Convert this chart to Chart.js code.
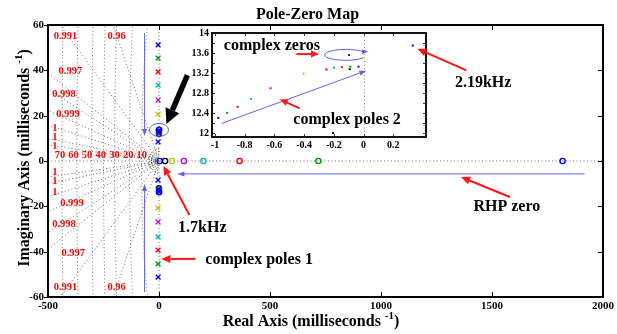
<!DOCTYPE html>
<html>
<head>
<meta charset="utf-8">
<title>Pole-Zero Map</title>
<script src="https://cdn.jsdelivr.net/npm/chart.js@4.4.1/dist/chart.umd.min.js"></script>
<style>
  html, body { margin: 0; padding: 0; background: #fff; }
  #wrap { position: relative; width: 617px; height: 334px; overflow: hidden; }
  #wrap canvas { position: absolute; left: 0; top: 0; }
</style>
</head>
<body>
<div id="wrap">
  <canvas id="main" width="617" height="334" style="width:617px;height:334px"></canvas>
  <canvas id="zoom" width="617" height="334" style="width:617px;height:334px"></canvas>
</div>
<script>
// ---------------- data (ms^-1) ----------------
const systemNames = ['blue', 'green', 'red', 'cyan', 'magenta', 'yellow', 'black'];

// lightly damped pole pairs close to the imaginary axis ("complex poles 1")
const poles1System = ['blue', 'green', 'red', 'cyan', 'magenta', 'yellow', 'blue'];
const poles1Re = [-4, -4, -4, -4, -4, -4, -4];
const poles1Im = [51.2, 45.4, 39.3, 33.5, 26.9, 20.7, 8.4];

// pole pairs around 12-13.4 ms^-1 ("complex poles 2")
const poles2System = ['blue', 'green', 'red', 'cyan', 'magenta', 'yellow',
                      'magenta', 'yellow', 'cyan', 'red', 'green', 'black', 'blue'];
const poles2Re = [-0.978, -0.918, -0.848, -0.758, -0.626, -0.403,
                  -0.25, -0.25, -0.20, -0.146, -0.089, -0.094, -0.034];
const poles2Im = [12.31, 12.41, 12.53, 12.69, 12.90, 13.19,
                  13.27, 13.29, 13.31, 13.32, 13.33, 13.28, 13.33];

// complex zero pairs
const cZeroSystem = ['blue', 'blue', 'black'];
const cZeroRe = [-0.098, 0.331, -0.206];
const cZeroIm = [13.56, 13.75, 12.01];

// real zeros
const rZeroSystem = ['blue', 'black', 'yellow', 'magenta', 'cyan', 'red', 'green', 'blue'];
const rZeroRe = [3, 27, 57, 112, 200, 363, 718, 1818];

// axis ticks
const mainXTicks = [-500, 0, 500, 1000, 1500, 2000];
const mainYTicks = [-60, -40, -20, 0, 20, 40, 60];
const insetXTicks = [-1, -0.8, -0.6, -0.4, -0.2, 0, 0.2];
const insetYTicks = [12, 12.4, 12.8, 13.2, 13.6, 14];

// s-plane grid: damping ratios and natural-frequency circles
const zetaValues = [0.991, 0.96, 0.997, 0.998, 0.999, 0.9995, 0.9998, 0.9999];
const zetaLabels = ['0.991', '0.96', '0.997', '0.998', '0.999', '1', '1', '1'];
const zetaLabelUpX = [-421, -191, -399, -428, -410, -469, -469, -469];
const zetaLabelUpY = [55.1, 55.1, 39.7, 29.6, 20.7, 14.6, 10.6, 6.6];
const zetaLabelLoX = [-421, -191, -386, -428, -392, -469, -469, -469];
const zetaLabelLoY = [-55.6, -55.6, -40.6, -27.8, -18.5, -4.9, -8.8, -13.7];
const wnRadii = [437, 370, 303, 250, 200, 133, 79];
const wnLabels = ['70', '60', '50', '40', '30', '20', '10'];
const wnLabelX = [-446, -385, -324, -262, -201, -139, -78];
const wnLabelY = 2.6;
const arcRx = [14, 24, 34, 44];
const arcRy = [1.8, 3.0, 4.2, 5.4];

// annotations (main axes coordinates)
const blueArrowsMain = [[-65, 56.5, -65, 11], [-65, -57.8, -65, -10.1], [1917, -5.7, 83, -5.7]];
const redArrowsMain = [[137, -23.8, 20, -2.2], [164, -43.2, 11, -43.2],
                       [1581, -15.9, 1361, -7.1], [1385, 40, 1164, 49.5]];
const blackArrowMain = [128, 37.9, 33.6, 16.3];
const mainNoteText = ['1.7kHz', 'complex poles 1', 'RHP zero', '2.19kHz'];
const mainNoteX = [195, 451, 1567, 1460];
const mainNoteY = [-29.6, -43.7, -20.3, 34.4];

// annotations (zoomed axes coordinates)
const insetRedArrows = [[-0.452, 13.58, -0.30, 13.58], [-0.43, 12.5, -0.564, 12.68]];
const insetBlueArrow = [-0.955, 12.2, 0.018, 13.25];
const insetNoteText = ['complex zeros', 'complex poles 2'];
const insetNoteX = [-0.617, -0.111];
const insetNoteY = [13.75, 12.27];
const zeroLoopCentre = [-0.12, 13.565];

// ---------------- styles ----------------
const systemColours = ['#0000ff', '#009900', '#ff0000', '#00b5b5', '#cc00cc', '#c4c400', '#000000'];
const SERIF = "'Liberation Serif', 'Times New Roman', serif";
const NOTE_BLUE = 'rgba(70,70,235,0.85)';
const NOTE_RED = '#ff1414';
const GRID_GREY = '#6a6a6a';

function colourOf(name) { return systemColours[systemNames.indexOf(name)]; }

function collect(sysArr, reArr, imArr, name, mirror) {
  const pts = [];
  sysArr.forEach((s, i) => {
    if (s !== name) return;
    pts.push({ x: reArr[i], y: imArr[i] });
    if (mirror) pts.push({ x: reArr[i], y: -imArr[i] });
  });
  return pts;
}

// ---------------- drawing helpers ----------------
function arrow(ctx, x1, y1, x2, y2, color, width, head, headW) {
  const a = Math.atan2(y2 - y1, x2 - x1);
  const bx = x2 - head * Math.cos(a), by = y2 - head * Math.sin(a);
  ctx.save();
  ctx.setLineDash([]);
  ctx.strokeStyle = color; ctx.fillStyle = color; ctx.lineWidth = width;
  ctx.beginPath(); ctx.moveTo(x1, y1); ctx.lineTo(bx, by); ctx.stroke();
  ctx.beginPath();
  ctx.moveTo(x2, y2);
  ctx.lineTo(bx + headW / 2 * Math.sin(a), by - headW / 2 * Math.cos(a));
  ctx.lineTo(bx - headW / 2 * Math.sin(a), by + headW / 2 * Math.cos(a));
  ctx.closePath(); ctx.fill();
  ctx.restore();
}

function supText(ctx, cx, cy, before, sup, after, size) {
  ctx.font = 'bold ' + size + 'px ' + SERIF;
  const w1 = ctx.measureText(before).width;
  const w3 = ctx.measureText(after).width;
  ctx.font = 'bold ' + Math.round(size * 0.7) + 'px ' + SERIF;
  const w2 = ctx.measureText(sup).width;
  let x = cx - (w1 + w2 + w3) / 2;
  ctx.textAlign = 'left'; ctx.textBaseline = 'middle';
  ctx.font = 'bold ' + size + 'px ' + SERIF;
  ctx.fillText(before, x, cy); x += w1;
  ctx.font = 'bold ' + Math.round(size * 0.7) + 'px ' + SERIF;
  ctx.fillText(sup, x, cy - size * 0.38); x += w2;
  ctx.font = 'bold ' + size + 'px ' + SERIF;
  ctx.fillText(after, x, cy);
}

// ---------------- main pole-zero map ----------------
const sgridPlugin = {
  id: 'sgrid',
  beforeDatasetsDraw(chart) {
    const { ctx, chartArea: a, scales: { x, y } } = chart;
    const X = v => x.getPixelForValue(v), Y = v => y.getPixelForValue(v);
    ctx.save();
    ctx.beginPath(); ctx.rect(a.left, a.top, a.right - a.left, a.bottom - a.top); ctx.clip();
    ctx.lineWidth = 1; ctx.strokeStyle = GRID_GREY; ctx.setLineDash([1, 2.5]);
    // constant damping rays
    zetaValues.forEach(z => {
      const t = Math.tan(Math.acos(z));
      [1, -1].forEach(s => {
        ctx.beginPath(); ctx.moveTo(X(0), Y(0)); ctx.lineTo(X(-3000), Y(s * t * 3000)); ctx.stroke();
      });
    });
    // natural-frequency circles
    wnRadii.forEach(r => {
      ctx.beginPath();
      const n = 1600;
      for (let i = 0; i <= n; i++) {
        const th = Math.PI / 2 + Math.PI * i / n;
        const px = X(r * Math.cos(th)), py = Y(r * Math.sin(th));
        if (i === 0) ctx.moveTo(px, py); else ctx.lineTo(px, py);
      }
      ctx.stroke();
    });
    // axes of the s-plane
    ctx.beginPath(); ctx.moveTo(a.left, Y(0)); ctx.lineTo(a.right, Y(0)); ctx.stroke();
    ctx.beginPath(); ctx.moveTo(X(0), a.top); ctx.lineTo(X(0), a.bottom); ctx.stroke();
    // small circles around the origin
    ctx.strokeStyle = '#333'; ctx.setLineDash([1, 1.5]);
    arcRx.forEach((rx, k) => {
      const ry = arcRy[k];
      ctx.beginPath();
      for (let i = 0; i <= 60; i++) {
        const th = Math.PI / 2 + Math.PI * i / 60;
        const px = X(rx * Math.cos(th)), py = Y(ry * Math.sin(th));
        if (i === 0) ctx.moveTo(px, py); else ctx.lineTo(px, py);
      }
      ctx.stroke();
    });
    ctx.restore();
    // grid labels
    ctx.save();
    ctx.fillStyle = '#ff0000'; ctx.font = 'bold 10.5px ' + SERIF;
    ctx.textAlign = 'center'; ctx.textBaseline = 'middle';
    zetaLabels.forEach((t, i) => {
      ctx.fillText(t, X(zetaLabelUpX[i]), Y(zetaLabelUpY[i]));
      ctx.fillText(t, X(zetaLabelLoX[i]), Y(zetaLabelLoY[i]));
    });
    wnLabels.forEach((t, i) => ctx.fillText(t, X(wnLabelX[i]), Y(wnLabelY)));
    ctx.restore();
  }
};

const mainFrame = {
  id: 'mainFrame',
  afterDraw(chart) {
    const { ctx, chartArea: a, scales: { x, y } } = chart;
    ctx.save();
    ctx.setLineDash([]); ctx.strokeStyle = '#000'; ctx.lineWidth = 1;
    const seg = (x1, y1, x2, y2) => { ctx.beginPath(); ctx.moveTo(x1, y1); ctx.lineTo(x2, y2); ctx.stroke(); };
    x.ticks.forEach(t => {
      const px = Math.round(x.getPixelForValue(t.value)) + 0.5;
      seg(px, a.bottom, px, a.bottom - 5); seg(px, a.top, px, a.top + 5);
    });
    y.ticks.forEach(t => {
      const py = Math.round(y.getPixelForValue(t.value)) + 0.5;
      seg(a.right, py, a.right - 5, py); seg(a.left, py, a.left - 4, py);
    });
    ctx.lineWidth = 2;
    ctx.strokeRect(a.left, a.top, a.right - a.left, a.bottom - a.top);
    // titles
    ctx.fillStyle = '#000';
    ctx.font = 'bold 16px ' + SERIF; ctx.textAlign = 'center'; ctx.textBaseline = 'middle';
    ctx.fillText('Pole-Zero Map', 307.5, 15);
    supText(ctx, 311, 322, 'Real Axis (milliseconds ', '-1', ')', 16);
    ctx.translate(25, 158); ctx.rotate(-Math.PI / 2);
    supText(ctx, 0, 0, 'Imaginary Axis (milliseconds ', '-1', ')', 16);
    ctx.restore();
  }
};

const mainDatasets = [];
systemNames.forEach(name => {
  const c = colourOf(name);
  const poles = collect(poles1System, poles1Re, poles1Im, name, true)
    .concat(collect(poles2System, poles2Re, poles2Im, name, true));
  const zeros = rZeroRe.filter((v, i) => rZeroSystem[i] === name).map(v => ({ x: v, y: 0 }))
    .concat(collect(cZeroSystem, cZeroRe, cZeroIm, name, true));
  mainDatasets.push({ label: name + ' poles', data: poles, pointStyle: 'crossRot', pointRadius: 3.4,
    borderColor: c, backgroundColor: c, pointBorderWidth: 1.4, showLine: false });
  mainDatasets.push({ label: name + ' zeros', data: zeros, pointStyle: 'circle', pointRadius: 2.6,
    borderColor: c, backgroundColor: 'rgba(0,0,0,0)', pointBorderWidth: 1.4, showLine: false });
});

const tickFont = { family: SERIF, size: 11, weight: 'bold' };
const plain = v => String(v);

const mainChart = new Chart(document.getElementById('main'), {
  type: 'scatter',
  data: { datasets: mainDatasets },
  options: {
    responsive: false, animation: false, devicePixelRatio: 1,
    events: [],
    layout: { padding: { top: 25, right: 11.5, left: 0, bottom: 0 } },
    plugins: { legend: { display: false }, tooltip: { enabled: false }, title: { display: false } },
    scales: {
      x: {
        type: 'linear', min: -500, max: 2000,
        afterFit(s) { s.height = 37; },
        afterBuildTicks(s) { s.ticks = mainXTicks.map(v => ({ value: v })); },
        grid: { display: false, drawTicks: false }, border: { display: false },
        ticks: { color: '#000', font: tickFont, padding: 3, maxRotation: 0, autoSkip: false, callback: plain }
      },
      y: {
        type: 'linear', min: -60, max: 60,
        afterFit(s) { s.width = 48; },
        afterBuildTicks(s) { s.ticks = mainYTicks.map(v => ({ value: v })); },
        grid: { display: false, drawTicks: false }, border: { display: false },
        ticks: { color: '#000', font: tickFont, padding: 4, autoSkip: false, callback: plain }
      }
    }
  },
  plugins: [sgridPlugin, mainFrame]
});

// ---------------- zoomed view around 13 ms^-1 ----------------
const insetDatasets = [];
systemNames.forEach(name => {
  const c = colourOf(name);
  const pts = collect(poles2System, poles2Re, poles2Im, name, false)
    .concat(collect(cZeroSystem, cZeroRe, cZeroIm, name, false));
  if (pts.length) insetDatasets.push({ label: name, data: pts, pointStyle: 'rect', pointRadius: 1.4,
    borderColor: c, backgroundColor: c, pointBorderWidth: 0, showLine: false });
});

const insetFrame = {
  id: 'insetFrame',
  beforeDraw(chart) {
    const { ctx, chartArea: a } = chart;
    ctx.save(); ctx.fillStyle = '#fff';
    ctx.fillRect(a.left, a.top, a.right - a.left, a.bottom - a.top);
    ctx.restore();
  },
  beforeDatasetsDraw(chart) {
    const { ctx, chartArea: a, scales: { x } } = chart;
    ctx.save(); ctx.strokeStyle = '#888'; ctx.lineWidth = 1; ctx.setLineDash([1, 2.5]);
    const px = Math.round(x.getPixelForValue(0)) + 0.5;
    ctx.beginPath(); ctx.moveTo(px, a.top); ctx.lineTo(px, a.bottom); ctx.stroke();
    ctx.restore();
  },
  afterDatasetsDraw(chart) {
    const { ctx, chartArea: a, scales: { x, y } } = chart;
    ctx.save(); ctx.setLineDash([]); ctx.strokeStyle = '#444'; ctx.lineWidth = 1;
    const seg = (x1, y1, x2, y2) => { ctx.beginPath(); ctx.moveTo(x1, y1); ctx.lineTo(x2, y2); ctx.stroke(); };
    x.ticks.forEach(t => {
      const px = Math.round(x.getPixelForValue(t.value)) + 0.5;
      seg(px, a.bottom, px, a.bottom - 3); seg(px, a.top, px, a.top + 3);
    });
    for (let v = 12; v <= 14.001; v += 0.2) {
      const py = Math.round(y.getPixelForValue(v)) + 0.5;
      seg(a.right, py, a.right - 3, py); seg(a.left, py, a.left + 3, py);
    }
    ctx.strokeStyle = '#111'; ctx.lineWidth = 2;
    ctx.strokeRect(a.left, a.top, a.right - a.left, a.bottom - a.top);
    ctx.restore();
  }
};

const notesPlugin = {
  id: 'notes',
  afterDraw(chart) {
    const ctx = chart.ctx;
    const mx = mainChart.scales.x, my = mainChart.scales.y;
    const ix = chart.scales.x, iy = chart.scales.y;
    const MX = v => mx.getPixelForValue(v), MY = v => my.getPixelForValue(v);
    const IX = v => ix.getPixelForValue(v), IY = v => iy.getPixelForValue(v);
    ctx.save();
    // loop round the complex zero pair
    ctx.strokeStyle = NOTE_BLUE; ctx.lineWidth = 1; ctx.setLineDash([]);
    const lcx = IX(zeroLoopCentre[0]), lcy = IY(zeroLoopCentre[1]);
    ctx.beginPath(); ctx.ellipse(lcx, lcy, 21, 5.5, 0, 0.55, Math.PI * 2 - 0.6); ctx.stroke();
    const ex = lcx + 21 * Math.cos(-0.6), ey = lcy + 5.5 * Math.sin(-0.6);
    arrow(ctx, ex - 1, ey, ex + 5, ey - 0.3, NOTE_BLUE, 1, 6, 5);
    // trend arrow along the second pole family
    arrow(ctx, IX(insetBlueArrow[0]), IY(insetBlueArrow[1]), IX(insetBlueArrow[2]), IY(insetBlueArrow[3]),
      NOTE_BLUE, 1, 7, 5);
    insetRedArrows.forEach(r => arrow(ctx, IX(r[0]), IY(r[1]), IX(r[2]), IY(r[3]), NOTE_RED, 2, 8, 7));
    // main-axes arrows
    blueArrowsMain.forEach(r => arrow(ctx, MX(r[0]), MY(r[1]), MX(r[2]), MY(r[3]), NOTE_BLUE, 1, 7, 5));
    redArrowsMain.forEach(r => arrow(ctx, MX(r[0]), MY(r[1]), MX(r[2]), MY(r[3]), NOTE_RED, 2, 9, 8));
    arrow(ctx, MX(blackArrowMain[0]), MY(blackArrowMain[1]), MX(blackArrowMain[2]), MY(blackArrowMain[3]),
      '#000', 5.5, 15, 15);
    // ellipse round the clustered pole/zero pair
    ctx.strokeStyle = NOTE_BLUE; ctx.lineWidth = 1;
    ctx.beginPath(); ctx.ellipse(MX(0), MY(13.7), 9.5, 6.5, 0, 0, Math.PI * 2); ctx.stroke();
    // labels
    ctx.fillStyle = '#000'; ctx.font = 'bold 16px ' + SERIF;
    ctx.textAlign = 'center'; ctx.textBaseline = 'middle';
    mainNoteText.forEach((t, i) => ctx.fillText(t, MX(mainNoteX[i]), MY(mainNoteY[i])));
    insetNoteText.forEach((t, i) => ctx.fillText(t, IX(insetNoteX[i]), IY(insetNoteY[i])));
    ctx.restore();
  }
};

const insetFont = { family: SERIF, size: 10, weight: 'bold' };
const fmt = v => String(+Number(v).toFixed(1));

new Chart(document.getElementById('zoom'), {
  type: 'scatter',
  data: { datasets: insetDatasets },
  options: {
    responsive: false, animation: false, devicePixelRatio: 1,
    events: [],
    layout: { padding: { left: 182, top: 33, right: 191, bottom: 177 } },
    plugins: { legend: { display: false }, tooltip: { enabled: false }, title: { display: false } },
    scales: {
      x: {
        type: 'linear', min: -1.02, max: 0.42,
        afterFit(s) { s.height = 20; },
        afterBuildTicks(s) { s.ticks = insetXTicks.map(v => ({ value: v })); },
        grid: { display: false, drawTicks: false }, border: { display: false },
        ticks: { color: '#000', font: insetFont, padding: 2, maxRotation: 0, autoSkip: false, callback: fmt }
      },
      y: {
        type: 'linear', min: 11.93, max: 14,
        afterFit(s) { s.width = 30; },
        afterBuildTicks(s) { s.ticks = insetYTicks.map(v => ({ value: v })); },
        grid: { display: false, drawTicks: false }, border: { display: false },
        ticks: { color: '#000', font: insetFont, padding: 3, autoSkip: false, callback: fmt }
      }
    }
  },
  plugins: [insetFrame, notesPlugin]
});
</script>
</body>
</html>
